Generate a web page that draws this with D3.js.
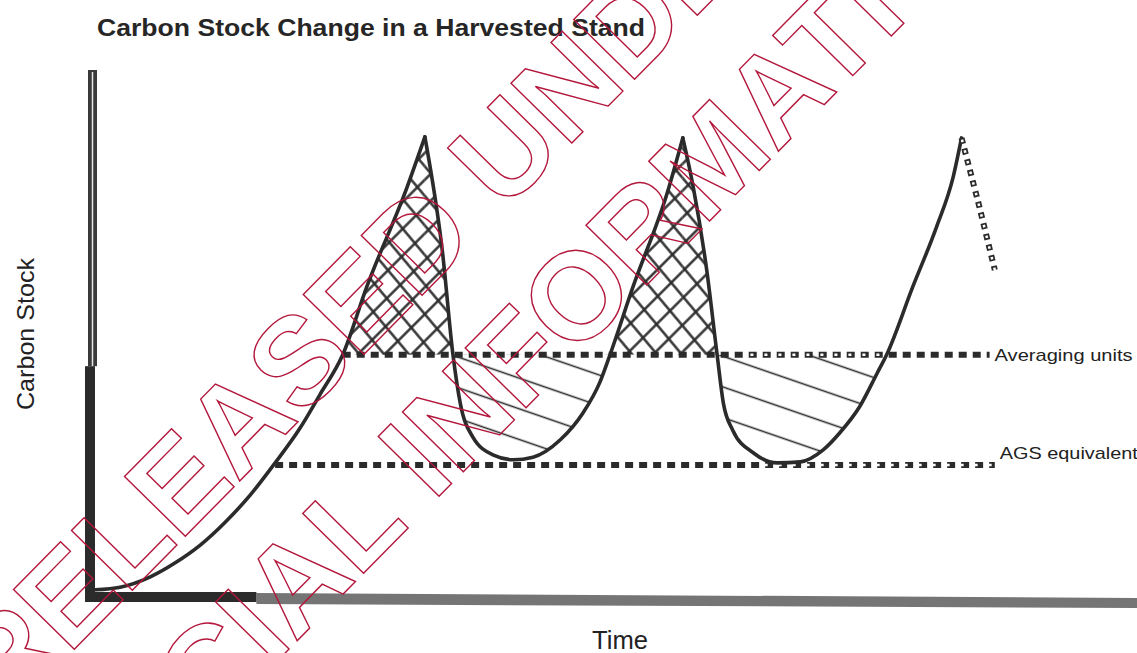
<!DOCTYPE html>
<html>
<head>
<meta charset="utf-8">
<script src="https://cdn.jsdelivr.net/npm/d3@7"></script>
<style>
  html, body { margin: 0; padding: 0; background: #fff; }
  svg { display: block; }
</style>
</head>
<body>
<div id="chart"></div>
<script>
// Stand carbon over time (arbitrary units, 0-100 on both axes)
var curveTime  = [0.5, 2.9, 5.8, 8.2, 10.6, 13.0, 15.4, 17.8, 20.2, 22.1, 24.3, 26.6, 30.5, 32.2,
                  33.9, 34.9, 35.6, 36.8, 38.8, 40.7, 42.6, 45.2, 47.4, 49.0, 50.0, 52.2, 55.5, 57.0,
                  58.0, 59.3, 60.3, 60.9, 61.8, 63.8, 66.1, 68.3, 70.5, 72.1, 74.0, 75.7, 76.6,
                  79.1, 81.4, 83.0, 83.8];
var curveStock = [1.0, 1.5, 3.5, 6.2, 9.6, 14.0, 19.2, 25.4, 32.1, 38.5, 46.2, 59.2, 78.5, 88.1,
                  65.8, 46.2, 36.9, 30.4, 26.9, 26.0, 26.5, 29.8, 35.0, 40.8, 46.2, 59.2, 77.3, 87.9,
                  78.5, 62.5, 46.2, 36.9, 31.7, 27.3, 25.4, 25.6, 27.9, 31.2, 36.2, 42.7, 46.2,
                  59.2, 70.8, 80.4, 87.9];

// projected harvest after the third peak
var dropTime  = [83.8, 85.4, 87.0];
var dropStock = [87.9, 75.6, 62.5];

// reference levels: [stock, start time, end time, hollow from, hollow to]
var avgLevel = [46.2, 24.3, 86.5, 63.3, 76.6];
var agsLevel = [25.0, 17.8, 87.0, 64.1, 87.0];

// hatched spans (time)
var crossSpan  = [24.3, 60.3];
var singleSpan = [34.9, 76.6];

var titleText  = "Carbon Stock Change in a Harvested Stand";
var xLabel     = "Time";
var yLabel     = "Carbon Stock";
var levelNames = ["Averaging units", "AGS equivalent"];
var stampLines = ["RELEASED UNDER THE", "OFFICIAL INFORMATION ACT"];

var W = 1137, H = 653;
var ink = "#2b2b2b";

var svg = d3.select("#chart").append("svg")
    .attr("width", W)
    .attr("height", H);

svg.append("rect").attr("width", W).attr("height", H).attr("fill", "#fff");

var x = d3.scaleLinear().domain([0, 100]).range([90, 1130]);
var y = d3.scaleLinear().domain([0, 100]).range([595, 75]);

var pts = curveTime.map(function(t, i) { return {t: t, c: curveStock[i]}; });

// split the curve at its peaks so the tops stay sharp
var segments = [], start = 0;
pts.forEach(function(d, i) {
    if (i > 0 && i < pts.length - 1 && d.c > pts[i - 1].c && d.c > pts[i + 1].c) {
        segments.push(pts.slice(start, i + 1));
        start = i;
    }
});
segments.push(pts.slice(start));

// hatch patterns
var defs = svg.append("defs");
function hatch(id, size, angle, width) {
    var p = defs.append("pattern")
        .attr("id", id)
        .attr("patternUnits", "userSpaceOnUse")
        .attr("width", size)
        .attr("height", size)
        .attr("patternTransform", "rotate(" + angle + ")");
    p.append("line")
        .attr("x1", 0).attr("x2", size)
        .attr("y1", size / 2).attr("y2", size / 2)
        .attr("stroke", ink)
        .attr("stroke-width", width);
}
hatch("crossA", 19, 50, 2.4);
hatch("crossB", 19, -45, 2.4);
hatch("single", 29, 19, 1.6);

defs.append("clipPath").attr("id", "above")
  .append("rect").attr("x", 0).attr("y", 0).attr("width", W).attr("height", y(avgLevel[0]));
defs.append("clipPath").attr("id", "below")
  .append("rect").attr("x", 0).attr("y", y(avgLevel[0])).attr("width", W).attr("height", H);

var band = d3.area()
    .curve(d3.curveMonotoneX)
    .x(function(d) { return x(d.t); })
    .y0(y(avgLevel[0]))
    .y1(function(d) { return y(d.c); });

function within(span) {
    return segments.map(function(s) {
        return s.filter(function(d) { return d.t >= span[0] && d.t <= span[1]; });
    }).filter(function(s) { return s.length > 1; });
}

var hatchG = svg.append("g");
within(crossSpan).forEach(function(s) {
    hatchG.append("path").datum(s)
        .attr("d", band).attr("fill", "url(#crossA)").attr("clip-path", "url(#above)");
    hatchG.append("path").datum(s)
        .attr("d", band).attr("fill", "url(#crossB)").attr("clip-path", "url(#above)");
});
within(singleSpan).forEach(function(s) {
    hatchG.append("path").datum(s)
        .attr("d", band).attr("fill", "url(#single)").attr("clip-path", "url(#below)");
});

// reference levels
function level(lv, name, dy) {
    var g = svg.append("g");
    var yy = y(lv[0]);
    g.append("line")
        .attr("x1", x(lv[1])).attr("x2", x(lv[2]))
        .attr("y1", yy).attr("y2", yy)
        .attr("stroke", ink).attr("stroke-width", 6)
        .attr("stroke-dasharray", "8 6");
    g.append("line")
        .attr("x1", x(lv[3])).attr("x2", x(lv[4]))
        .attr("y1", yy).attr("y2", yy)
        .attr("stroke", "#fff").attr("stroke-width", 2.5)
        .attr("stroke-dasharray", "3 11")
        .attr("stroke-dashoffset", -((x(lv[3]) - x(lv[1])) % 14) - 2.5);
    g.append("text")
        .attr("x", x(lv[2]) + 5)
        .attr("y", yy + dy)
        .attr("font-family", "'Liberation Sans Narrow', 'Liberation Sans', Arial, sans-serif")
        .attr("font-size", 17)
        .attr("fill", "#222")
        .attr("textLength", 138)
        .attr("lengthAdjust", "spacingAndGlyphs")
        .text(name);
}
level(avgLevel, levelNames[0], 6);
level(agsLevel, levelNames[1], -6);

// stand curve
var line = d3.line()
    .curve(d3.curveMonotoneX)
    .x(function(d) { return x(d.t); })
    .y(function(d) { return y(d.c); });

svg.append("g").selectAll("path")
    .data(segments)
    .enter().append("path")
    .attr("d", line)
    .attr("fill", "none")
    .attr("stroke", ink)
    .attr("stroke-width", 3.6)
    .attr("stroke-linejoin", "round")
    .attr("stroke-linecap", "round");

var straight = d3.line()
    .x(function(d) { return x(d.t); })
    .y(function(d) { return y(d.c); });
var drop = dropTime.map(function(t, i) { return {t: t, c: dropStock[i]}; });
svg.append("path").datum(drop)
    .attr("d", straight).attr("fill", "none")
    .attr("stroke", ink).attr("stroke-width", 6)
    .attr("stroke-dasharray", "6 5");
svg.append("path").datum(drop)
    .attr("d", straight).attr("fill", "none")
    .attr("stroke", "#fff").attr("stroke-width", 2.5)
    .attr("stroke-dasharray", "2.5 8.5")
    .attr("stroke-dashoffset", -1.8);

// axes (no ticks in the original)
var x0 = x(0) - 5, yBase = y(0) + 2;
svg.append("rect")
    .attr("x", x0 + 3).attr("y", y(100) - 5)
    .attr("width", 9).attr("height", y(44) - y(100) + 5)
    .attr("fill", "#3a3a3a");
svg.append("line")
    .attr("x1", x0 + 7.5).attr("x2", x0 + 7.5)
    .attr("y1", y(100) - 3).attr("y2", y(44))
    .attr("stroke", "#e8e8e8").attr("stroke-width", 1.5);
svg.append("rect")
    .attr("x", x0).attr("y", y(44))
    .attr("width", 10).attr("height", yBase + 5 - y(44))
    .attr("fill", ink);
svg.append("path")
    .attr("d", "M" + x(16) + "," + (yBase - 4) + "L" + W + "," + (yBase + 1) +
               "L" + W + "," + (yBase + 11) + "L" + x(16) + "," + (yBase + 7) + "Z")
    .attr("fill", "#757575");
svg.append("rect")
    .attr("x", x0).attr("y", yBase - 5)
    .attr("width", x(16) - x0).attr("height", 10)
    .attr("fill", ink);

// titles
svg.append("text")
    .attr("x", 97).attr("y", 36)
    .attr("font-family", "'Liberation Sans Narrow', 'Liberation Sans', Arial, sans-serif")
    .attr("font-weight", "bold")
    .attr("font-size", 23)
    .attr("fill", "#262626")
    .attr("textLength", 548)
    .attr("lengthAdjust", "spacingAndGlyphs")
    .text(titleText);

svg.append("text")
    .attr("transform", "translate(34,334) rotate(-90)")
    .attr("text-anchor", "middle")
    .attr("font-family", "'Liberation Sans', Arial, sans-serif")
    .attr("font-size", 24)
    .attr("fill", "#222")
    .attr("textLength", 152)
    .attr("lengthAdjust", "spacingAndGlyphs")
    .text(yLabel);

svg.append("text")
    .attr("x", 592).attr("y", 649)
    .attr("font-family", "'Liberation Sans', Arial, sans-serif")
    .attr("font-size", 25)
    .attr("fill", "#222")
    .attr("textLength", 56)
    .attr("lengthAdjust", "spacingAndGlyphs")
    .text(xLabel);

// release stamp, outlined red letters
var stamp = svg.append("g")
    .attr("transform", "translate(508,208) rotate(-45.5)")
    .attr("font-family", "'Liberation Sans', Arial, sans-serif")
    .attr("font-weight", "bold")
    .attr("font-size", 124)
    .attr("text-anchor", "middle")
    .attr("fill", "none")
    .attr("stroke", "#b3173c")
    .attr("stroke-width", 1.4);
stamp.selectAll("text")
    .data(stampLines)
    .enter().append("text")
    .attr("x", function(d, i) { return i * 11; })
    .attr("y", function(d, i) { return i * 153; })
    .text(function(d) { return d; });
</script>
</body>
</html>
